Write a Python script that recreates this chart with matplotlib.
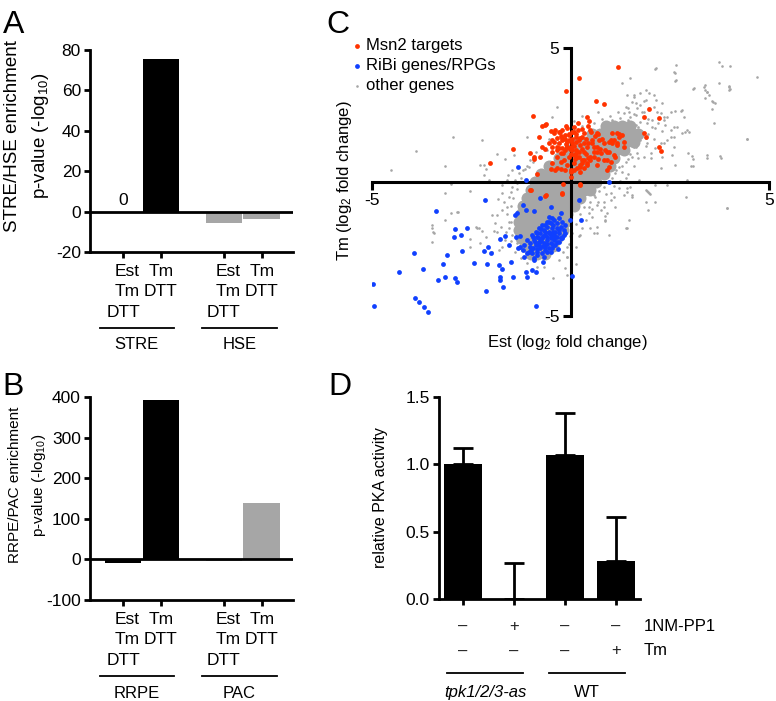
import numpy as np
import matplotlib.pyplot as plt

plt.rcParams['font.family'] = ['Liberation Sans', 'DejaVu Sans']
plt.rcParams['mathtext.fontset'] = 'custom'
plt.rcParams['mathtext.rm'] = 'Liberation Sans'
plt.rcParams['mathtext.it'] = 'Liberation Sans:italic'
plt.rcParams['axes.unicode_minus'] = False

# ---- panels A and B: motif enrichment ----
cond_labels = ['Est\nTm\nDTT', 'Tm\nDTT', 'Est\nTm\nDTT', 'Tm\nDTT']
stre_hse = [0, 75.5, -5.5, -3.5]
rrpe_pac = [-8, 392, -5, 138]
groups_a = ['STRE', 'HSE']
groups_b = ['RRPE', 'PAC']
bar_cols = ['black', 'black', '#a6a6a6', '#a6a6a6']

# ---- panel C: log2 fold changes (Est, Tm) ----
msn2_pts = [
    (1.19, 4.28), (0.21, 3.87), (-0.11, 3.41), (0.64, 3.02), (0.84, 2.91), (-0.94, 2.48),
    (1.97, 2.71), (1.85, 2.41), (2.23, 2.39), (0.42, 2.41), (0.46, 2.29), (-0.71, 2.09),
    (-0.61, 2.16), (-0.80, 1.67), (-1.44, 1.24), (-2.03, 0.72), (-0.92, 0.95), (-0.71, 1.32),
    (-0.46, 1.57), (-0.29, 1.44), (-0.42, 1.82), (-0.21, 1.94), (-0.08, 2.00), (0.04, 1.88),
    (0.13, 1.69), (0.00, 1.32), (-0.13, 1.19), (-0.25, 1.07), (-0.34, 0.95), (-0.46, 1.13),
    (0.17, 0.95), (0.34, 0.82), (0.08, 0.70), (0.25, 0.57), (0.42, 0.70), (0.50, 0.95),
    (0.59, 1.13), (0.76, 1.07), (0.92, 1.13), (1.05, 1.44), (1.18, 1.38), (1.34, 1.32),
    (1.18, 1.82), (1.01, 1.57), (0.84, 1.44), (0.67, 1.82), (0.55, 1.57), (0.34, 1.44),
    (0.21, 1.13), (0.00, 0.45), (-0.18, -0.09), (0.25, -0.07), (-0.21, -0.46), (-0.61, -0.49),
    (-0.84, 0.30), (-0.99, -0.30), (1.85, 1.82), (1.89, 1.69), (2.23, 1.32), (2.27, 1.17),
    (-0.17, 0.82), (-0.04, 0.95), (-0.34, 0.51), (-0.46, 0.70), (0.45, 2.09), (0.52, 1.88),
    (0.29, 1.69), (0.00, 1.57), (-0.08, 1.32), (0.13, 1.19), (0.34, 1.13), (0.84, 0.82),
    (0.67, 0.63), (-0.21, 1.63), (-0.34, 1.32), (0.08, 1.01), (0.24, 1.38), (-0.04, 1.75),
    (-0.27, 1.88), (0.71, 1.57), (1.22, 1.69), (1.34, 1.50), (0.92, 0.82), (1.13, 0.95),
    (0.44, 1.44), (-0.63, 2.13), (-0.38, 1.94), (-0.29, 1.88), (-0.13, 1.75), (-0.04, 1.79),
    (0.08, 1.88), (0.18, 1.94), (0.29, 1.97), (0.35, 1.82), (0.25, 1.63), (0.15, 1.50),
    (0.04, 1.44), (-0.08, 1.50), (-0.21, 1.57), (-0.34, 1.63), (-0.42, 1.50), (-0.46, 1.32),
    (-0.34, 1.19), (-0.21, 1.26), (-0.08, 1.32), (0.04, 1.19), (0.13, 1.07), (0.21, 0.95),
    (0.29, 0.82), (0.25, 0.63), (0.17, 0.51), (0.08, 0.45), (0.00, 0.39), (-0.13, 0.45),
    (-0.25, 0.47), (-0.38, 0.45), (-0.50, 0.47), (0.25, 0.39), (0.34, 0.51), (0.42, 0.63),
    (0.50, 0.82), (0.59, 0.95), (0.67, 1.13), (0.88, 1.19), (0.97, 1.13), (1.09, 1.01),
    (1.01, 0.76), (0.97, 0.57), (0.92, 0.45), (1.18, 1.44), (1.09, 1.57), (1.30, 1.75),
    (1.22, 1.79), (1.05, 1.82), (0.69, 1.79), (0.50, 1.94), (0.55, 1.44), (0.42, 1.32),
    (0.67, 1.32), (0.97, 1.50), (-0.63, 1.22), (-0.76, 0.95), (-0.92, 0.85), (-1.02, 1.07),
    (0.00, 0.20), (0.24, -0.11), (-0.21, -0.42), (-0.63, -0.52), (-1.01, -0.30),
    (-0.25, 1.72), (-0.15, 1.62), (-0.05, 1.55), (0.05, 1.62), (0.15, 1.78), (0.22, 1.55),
    (0.10, 1.35), (-0.02, 1.25), (-0.12, 1.40), (-0.28, 1.28), (-0.18, 1.10), (0.02, 1.05),
    (0.12, 0.85), (0.30, 1.25), (0.38, 1.05), (0.45, 0.90), (0.60, 1.30), (0.75, 1.25),
    (0.80, 1.60), (0.62, 1.70), (0.38, 1.60), (-0.50, 1.90), (-0.55, 1.45), (0.08, 2.05),
    (-0.12, 2.10), (0.20, 2.20), (0.30, 0.70), (-0.08, 0.62), (-0.25, 0.75), (0.70, 0.85),
]

ribi_pts = [
    (-3.40, -1.08), (-2.16, -0.67), (-2.91, -1.74), (-2.60, -1.70), (-2.94, -2.04), (-2.75, -1.99),
    (-2.73, -2.57), (-3.95, -2.66), (-3.12, -2.72), (-3.72, -3.25), (-4.33, -3.37), (-3.22, -3.06),
    (-3.15, -3.53), (-3.34, -3.66), (-2.90, -3.59), (-2.85, -3.72), (-4.98, -3.81), (-4.94, -4.64),
    (-3.92, -4.32), (-3.82, -4.47), (-3.69, -4.68), (-3.59, -4.85), (-2.42, -3.01), (-2.18, -2.56),
    (-2.08, -2.44), (-1.99, -2.66), (-2.10, -3.07), (-2.14, -4.05), (-1.79, -3.10), (-1.72, -3.26),
    (-1.78, -3.56), (-1.78, -3.66), (-1.70, -3.92), (-1.44, -3.53), (-1.51, -2.97), (-1.55, -2.35),
    (-1.78, -2.14), (-1.64, -2.01), (-1.37, -2.06), (-1.28, -2.01), (-1.33, -2.48), (-1.18, -2.79),
    (-1.13, -3.37), (-1.09, -3.56), (-0.97, -3.28), (-0.92, -2.91), (-0.86, -3.37), (-0.86, -4.61),
    (-0.69, -2.97), (-1.40, -1.23), (-1.34, -1.17), (-1.19, -0.86), (-1.13, -1.04), (-0.92, -1.07),
    (-0.50, -0.92), (-0.55, -1.29), (-0.25, -1.17), (-0.76, -0.61), (-1.13, 0.07), (-1.32, 0.57),
    (0.04, -3.51), (-0.32, -2.51), (-0.21, -2.10), (-0.17, -1.98), (-0.02, -1.42), (0.97, 0.00),
    (0.21, -0.67), (0.27, -1.42),
    (-1.01, -2.29), (-0.92, -2.16), (-0.84, -2.04), (-0.76, -1.92), (-0.67, -1.79), (-0.59, -1.67),
    (-0.50, -1.54), (-0.42, -1.42), (-0.34, -1.54), (-0.25, -1.67), (-0.17, -1.79), (-0.21, -2.04),
    (-0.29, -2.23), (-0.38, -2.35), (-0.46, -2.48), (-0.59, -2.60), (-0.71, -2.66), (-0.84, -2.60),
    (-0.94, -2.48), (-1.02, -2.44), (-0.88, -2.35), (-0.80, -2.23), (-0.71, -2.10), (-0.63, -1.98),
    (-0.55, -1.85), (-0.46, -1.73), (-0.38, -1.85), (-0.34, -2.04), (-0.42, -2.16), (-0.50, -2.29),
    (-0.63, -2.41), (-0.76, -2.48), (-0.84, -2.72), (-0.67, -2.79), (-0.97, -2.66), (-1.05, -2.60),
    (-0.59, -2.16), (-0.67, -2.29), (-0.50, -1.98), (-0.42, -1.98), (-0.29, -1.79), (-0.13, -1.60),
    (-0.21, -1.48), (-0.29, -1.36), (-0.46, -1.36), (-0.59, -1.48), (-0.71, -1.60), (-0.80, -1.73),
    (-0.88, -1.85), (-0.97, -1.98), (-1.09, -2.16), (-1.18, -2.35), (-1.26, -2.44), (-1.19, -2.54),
    (-1.09, -2.66), (-0.92, -2.85),
    (-0.95, -2.05), (-0.85, -1.90), (-0.75, -1.75), (-0.65, -1.60), (-0.55, -1.50), (-0.45, -1.60),
    (-0.35, -1.70), (-0.30, -1.90), (-0.25, -2.10), (-0.35, -2.25), (-0.45, -2.35), (-0.55, -2.45),
    (-0.70, -2.40), (-0.80, -2.35), (-0.90, -2.25), (-0.60, -2.05), (-0.70, -2.00), (-0.80, -2.10),
    (-0.50, -2.10), (-0.40, -2.05), (-0.55, -1.90), (-0.65, -1.85), (-0.45, -1.85), (-0.75, -2.20),
    (-0.60, -2.30), (-0.85, -2.50), (-0.65, -2.55), (-0.50, -2.60), (-1.00, -2.55), (-0.15, -1.90),
]

# sparse grey genes away from the dense centre
other_pts = [
    (2.67, 4.37), (3.74, 4.49), (3.82, 4.33), (4.03, 4.33), (4.70, 3.91), (2.14, 4.20), (2.62, 4.08),
    (2.63, 3.78), (1.30, 3.71), (1.49, 3.87), (3.38, 3.62), (3.40, 3.43), (3.44, 3.37), (3.48, 3.25),
    (3.74, 3.68), (3.99, 3.58), (4.01, 3.46), (3.09, 3.46), (3.59, 3.00), (3.65, 2.94), (3.38, 3.12),
    (3.57, 2.72), (3.61, 2.19), (4.45, 1.59), (3.44, 0.91), (3.80, 0.91), (3.09, 0.85), (3.04, 0.60),
    (2.94, 1.94), (2.98, 1.88), (2.81, 1.82), (2.69, 2.04), (2.87, 2.41), (2.79, 2.64), (2.64, 2.65),
    (2.52, 2.60), (2.43, 2.44), (2.35, 2.31), (2.10, 3.25), (2.31, 2.94), (1.85, 3.03), (1.97, 3.33),
    (1.76, 3.31), (1.60, 3.25), (1.55, 3.00), (1.64, 2.94), (1.76, 2.87), (1.39, 2.81), (1.47, 2.62),
    (1.34, 2.56), (1.51, 2.44), (1.64, 2.50), (1.85, 2.62), (1.97, 2.75), (2.10, 2.81), (2.18, 2.62),
    (2.06, 2.31), (1.93, 2.19), (1.76, 2.25), (1.64, 2.13), (1.43, 2.06), (2.39, 2.13), (2.52, 1.94),
    (2.60, 1.69), (2.43, 1.57), (2.27, 1.44), (2.14, 1.26), (2.02, 1.07), (1.85, 0.95), (2.02, 0.88),
    (2.60, 1.32), (2.56, 1.01), (2.31, 0.95), (2.64, 0.63), (2.27, 0.51), (2.94, 0.07), (2.44, -0.11),
    (2.14, -0.11), (1.51, -0.17), (1.43, -0.36), (1.55, -0.49), (1.09, -0.55), (1.95, -0.36),
    (2.00, -0.45), (1.22, -0.24), (1.72, 0.07), (1.39, 0.14), (3.95, -0.98), (1.34, 1.57),
    (1.22, 1.44), (1.09, 1.38), (1.18, 1.19), (1.01, 1.07), (1.43, 1.26), (1.60, 1.32), (1.68, 1.07),
    (1.55, 0.95), (1.39, 0.76), (1.22, 0.57), (1.30, 0.39), (1.13, 0.32), (1.09, 2.19), (0.92, 2.00),
    (1.18, 1.88), (1.01, 1.75), (0.84, 1.63), (1.55, 1.88), (1.72, 1.75), (1.89, 1.63), (1.93, 1.44),
    (1.01, -0.42), (1.34, -0.49), (1.93, -0.32), (1.97, -0.42), (2.14, -0.73), (1.95, -1.04),
    (1.47, -1.42), (1.39, -1.73), (1.13, -0.92), (0.88, -1.27), (0.88, -1.42), (0.97, -1.98),
    (0.67, -1.92), (0.50, -1.73), (0.55, -1.29), (0.76, -1.04), (0.67, -0.86), (0.84, -0.73),
    (1.01, -0.67), (0.59, -0.49), (0.25, -1.98), (0.21, -2.01), (0.13, -2.41), (0.15, -3.06),
    (-0.08, -3.47), (-0.10, -2.81),
    (-4.52, 0.45), (-3.17, 0.60), (-2.27, 0.63), (-2.14, 0.47), (-2.18, 0.26), (-2.06, 0.07),
    (-2.54, -0.32), (-3.01, -0.09), (-3.17, -0.42), (-2.84, -1.11), (-3.02, -1.17), (-3.17, -1.42),
    (-3.50, -1.60), (-3.46, -1.85), (-3.48, -2.23), (-2.39, -1.67), (-2.31, -1.73), (-2.54, -2.11),
    (-2.27, -2.26), (-2.14, -2.06), (-1.93, -1.82), (-1.85, -1.85), (-1.76, -1.67), (-1.91, -1.54),
    (-1.85, -1.23), (-1.97, -1.23), (-1.72, -1.04), (-1.60, -0.92), (-1.83, -0.65), (-1.68, -0.73),
    (-1.55, -0.55), (-1.51, -0.36), (-1.47, -0.17), (-1.34, -0.05), (-1.40, 0.07), (-1.60, 0.07),
    (-1.72, -0.11), (-1.72, -0.42), (-2.52, -2.41), (-1.81, -2.54), (-1.72, -2.41), (-1.97, -2.60),
    (-1.64, -2.16), (-1.47, -1.98), (-1.55, -1.73), (-1.51, -1.48), (-1.39, -1.54), (-1.34, -1.36),
    (-1.22, -1.36), (-1.26, -1.79), (-1.18, -2.01), (-1.34, -2.29), (-1.22, -2.54), (-1.09, -3.03),
    (-0.84, -3.16), (-0.67, -3.16), (-0.44, -3.59), (-0.13, -3.22), (-0.08, -2.79), (-0.08, -2.41),
    (-3.90, 1.17), (-2.96, 1.69), (-2.24, 1.57), (-1.43, 1.01), (-1.85, 1.04), (-1.66, 0.85),
    (-2.18, 0.63), (-1.47, 0.45), (-1.30, 0.32), (-1.58, 0.26), (-1.09, 1.69), (-1.09, 0.60),
    (-1.01, 0.82), (-0.88, 1.13), (-0.55, 1.59), (-0.46, 2.44), (-0.34, 2.81), (0.10, 2.29),
    (0.47, 1.57), (1.89, 3.43), (2.15, 4.24), (2.60, 4.12), (2.66, 3.81), (3.36, 3.56), (3.44, 3.37),
    (3.99, 3.53), (3.99, 3.43), (3.11, 3.50), (3.57, 3.03), (4.45, 1.62), (3.44, 1.01), (3.76, 0.98),
    (3.06, 0.98), (3.09, 0.61), (2.96, 1.09), (2.88, 1.88), (2.81, 2.69), (2.28, 2.59), (2.35, 2.41),
    (2.16, 3.06), (1.90, 3.06), (1.60, 3.18), (1.43, 3.25), (1.68, 2.75), (2.14, 2.00), (2.60, 2.06),
    (2.52, 1.69), (2.35, 1.44), (2.90, -0.57), (1.91, -0.30), (1.91, -0.73), (1.43, -0.24),
    (1.43, -1.73), (0.88, -1.44), (0.92, -1.17), (0.84, -0.92), (0.60, -1.92), (0.67, -1.67),
    (3.93, -0.98), (1.55, -0.55), (0.42, -0.42), (0.46, -0.92), (0.46, -1.17), (0.00, -2.75),
    (-2.87, -1.11), (-3.50, -1.70), (-3.44, -1.92), (-2.35, -1.73), (-2.23, -1.83),
    # halo around the dense centre
    (-1.25, 0.15), (-1.35, -0.25), (-1.45, -0.60), (-1.20, 0.45), (-1.05, 0.55), (-1.50, -0.90),
    (-1.60, -1.20), (-1.55, -1.50), (-1.62, -1.85), (-1.50, -2.20), (-1.40, -2.60), (-1.25, -2.85),
    (-0.30, -2.90), (-0.20, -2.60), (-0.05, -2.30), (0.05, -1.90), (0.15, -1.55), (0.25, -1.20),
    (0.35, -0.95), (0.50, -0.75), (0.62, -0.55), (0.72, -0.35), (0.85, -0.20), (0.95, 0.00),
    (1.05, 0.15), (1.15, 0.45), (1.30, 0.60), (1.45, 0.85), (1.50, 1.05), (1.65, 1.30),
    (1.75, 1.55), (1.95, 1.80), (2.05, 2.05), (1.95, 2.35), (1.80, 2.60), (1.20, 2.60),
    (1.00, 2.45), (0.80, 2.35), (0.60, 2.20), (0.30, 2.10), (0.10, 1.95), (-0.15, 1.70),
    (-0.35, 1.45), (-0.60, 1.20), (-0.75, 0.95), (-0.95, 0.75), (-1.15, 0.50), (0.30, 2.45),
    (0.70, 2.60), (1.45, 2.75), (1.60, 2.55), (2.20, 2.20), (2.30, 1.90), (2.10, 1.60),
    (1.90, 1.35), (1.70, 0.90), (1.60, 0.60), (1.45, 0.30), (1.25, 0.05), (1.10, -0.15),
    (0.90, -0.45), (0.70, -0.75), (0.55, -1.00), (0.40, -1.40), (0.30, -1.70), (-0.02, -2.00),
    (1.05, 2.30), (1.25, 2.40), (1.45, 2.30), (1.70, 2.05), (0.85, 2.15), (1.35, 2.15),
]

# dense grey centre, read row by row (Tm value, Est values)
core_rows = [
    (2.1, [0.9, 1.1, 1.3, 1.5]),
    (1.8, [0.55, 0.75, 0.95, 1.15, 1.35, 1.55, 1.7]),
    (1.5, [0.2, 0.4, 0.6, 0.8, 1.0, 1.2, 1.4, 1.6]),
    (1.2, [-0.05, 0.15, 0.35, 0.55, 0.75, 0.95, 1.15, 1.35]),
    (0.9, [-0.3, -0.1, 0.1, 0.3, 0.5, 0.7, 0.9, 1.1]),
    (0.6, [-0.55, -0.35, -0.15, 0.05, 0.25, 0.45, 0.65, 0.85, 1.0]),
    (0.3, [-0.75, -0.55, -0.35, -0.15, 0.05, 0.25, 0.45, 0.65, 0.85]),
    (0.0, [-0.9, -0.7, -0.5, -0.3, -0.1, 0.1, 0.3, 0.5, 0.65]),
    (-0.3, [-1.0, -0.85, -0.65, -0.45, -0.25, -0.05, 0.15, 0.35, 0.5]),
    (-0.6, [-1.1, -0.95, -0.75, -0.55, -0.35, -0.15, 0.05, 0.25]),
    (-0.9, [-1.2, -1.05, -0.85, -0.65, -0.45, -0.25, -0.05, 0.1]),
    (-1.2, [-1.25, -1.1, -0.9, -0.7, -0.5, -0.3, -0.1]),
    (-1.5, [-1.3, -1.15, -0.95, -0.75, -0.55, -0.35, -0.15]),
    (-1.8, [-1.3, -1.15, -1.0, -0.8, -0.6, -0.4, -0.2]),
    (-2.1, [-1.25, -1.1, -0.95, -0.75, -0.55, -0.35]),
    (-2.4, [-1.15, -1.0, -0.85, -0.65, -0.45]),
    (-2.7, [-1.0, -0.85, -0.65]),
]

# ---- panel D: PKA activity ----
pka_mean = [1.00, 0.00, 1.07, 0.28]
pka_err = [0.12, 0.27, 0.31, 0.33]
nmpp1 = ['–', '+', '–', '–']
tm_row = ['–', '–', '–', '+']
strains = ['tpk1/2/3-as', 'WT']

W, H = 776, 701
fig = plt.figure(figsize=(W / 100, H / 100), dpi=100)


def box(l, t, r, b):
    return [l / W, 1 - b / H, (r - l) / W, (b - t) / H]


def enrich(ax, vals, ylim, yticks, groups, ylabel, ycen, lsize):
    pos = [0, 1, 2.66, 3.66]
    ax.bar(pos, vals, width=0.97, color=bar_cols, zorder=2)
    ax.axhline(0, color='k', lw=2, zorder=3)
    ax.set_xlim(-0.87, 4.48)
    ax.set_ylim(*ylim)
    ax.set_yticks(yticks)
    ax.set_xticks(pos)
    ax.set_xticklabels(cond_labels, fontsize=12.5, linespacing=1.45)
    ax.get_xticklabels()[0].set_multialignment('right')
    ax.get_xticklabels()[2].set_multialignment('right')
    for s in ['top', 'right']:
        ax.spines[s].set_visible(False)
    for s in ['left', 'bottom']:
        ax.spines[s].set_linewidth(2)
    ax.tick_params(width=2, length=4.5, labelsize=12.5, pad=2)
    ax.tick_params(axis='x', pad=4)
    tr = ax.get_xaxis_transform()
    for (x0, x1), g in zip([(-0.61, 1.34), (2.08, 4.06)], groups):
        ax.plot([x0, x1], [-0.375, -0.375], color='k', lw=1.3, transform=tr, clip_on=False)
        ax.text((x0 + x1) / 2, -0.46, g, transform=tr, ha='center', va='center', fontsize=12)
    fig.text(28 / W, 1 - ycen / H, ylabel, rotation=90, ha='center', va='center',
             fontsize=lsize, linespacing=1.6, multialignment='center')


axA = fig.add_axes(box(90, 50, 293, 252))
enrich(axA, stre_hse, (-20, 80), [-20, 0, 20, 40, 60, 80], groups_a,
       'STRE/HSE enrichment\np-value (-log$_{10}$)', 136, 13.5)
axA.text(0, 2, '0', ha='center', va='bottom', fontsize=12.5)

axB = fig.add_axes(box(90, 397, 293, 600))
enrich(axB, rrpe_pac, (-100, 400), [-100, 0, 100, 200, 300, 400], groups_b,
       'RRPE/PAC enrichment\np-value (-log$_{10}$)', 485, 11)

# ---- C ----
axC = fig.add_axes(box(372, 48, 769, 316))
core_x = [x for y, xs in core_rows for x in xs]
core_y = [y for y, xs in core_rows for x in xs]
ox, oy = np.array(other_pts).T
bx, by = np.array(ribi_pts).T
rx, ry = np.array(msn2_pts).T
grey = '#a6a6a6'
axC.scatter(core_x, core_y, s=75, color=grey, lw=0, zorder=1)
axC.scatter(ox, oy, s=3.5, color=grey, lw=0, zorder=1, label='other genes')
axC.scatter(bx, by, s=12, color='#1040ff', lw=0, zorder=3, label='RiBi genes/RPGs')
axC.scatter(rx, ry, s=12, color='#ff3300', lw=0, zorder=4, label='Msn2 targets')
axC.set_xlim(-5, 5)
axC.set_ylim(-5, 5)
for s in ['top', 'right']:
    axC.spines[s].set_visible(False)
for s in ['left', 'bottom']:
    axC.spines[s].set_position('zero')
    axC.spines[s].set_linewidth(2.2)
    axC.spines[s].set_zorder(2)
axC.set_xticks([-5, 5])
axC.set_xticklabels(['-5', '5'])
axC.set_yticks([-5, 5])
axC.set_yticklabels(['-5', '5'])
axC.tick_params(width=2.2, length=6, labelsize=12.5, pad=2)
h, l = axC.get_legend_handles_labels()
axC.legend(h[::-1], l[::-1], loc='upper left', bbox_to_anchor=(353 / W, 1 - 38 / H),
           bbox_transform=fig.transFigure, frameon=False, fontsize=12,
           handlelength=0.5, handletextpad=0.25, labelspacing=0.3, borderpad=0,
           borderaxespad=0, scatterpoints=1)
fig.text(344 / W, 1 - 181 / H, 'Tm (log$_2$ fold change)', rotation=90,
         ha='center', va='center', fontsize=12)
fig.text(567 / W, 1 - 342 / H, 'Est (log$_2$ fold change)', ha='center', va='center', fontsize=12)

# ---- D ----
axD = fig.add_axes(box(439, 397, 640, 599))
pos = np.arange(4)
axD.bar(pos, pka_mean, width=0.76, color='k', zorder=2)
axD.errorbar(pos, pka_mean, yerr=[np.zeros(4), pka_err], fmt='none', ecolor='k',
             elinewidth=2, capsize=7, capthick=2, zorder=1)
axD.set_xlim(-0.47, 3.47)
axD.set_ylim(0, 1.5)
axD.set_yticks([0, 0.5, 1.0, 1.5])
axD.set_yticklabels(['0.0', '0.5', '1.0', '1.5'])
axD.set_xticks(pos)
axD.set_xticklabels([])
for s in ['top', 'right']:
    axD.spines[s].set_visible(False)
for s in ['left', 'bottom']:
    axD.spines[s].set_linewidth(2)
axD.tick_params(width=2, length=4.5, labelsize=12.5, pad=2)
trD = axD.get_xaxis_transform()
for p, a, b in zip(pos, nmpp1, tm_row):
    axD.text(p, -0.134, a, transform=trD, ha='center', va='center', fontsize=12, color='#222222')
    axD.text(p, -0.257, b, transform=trD, ha='center', va='center', fontsize=12, color='#222222')
axD.text(3.54, -0.134, '1NM-PP1', transform=trD, ha='left', va='center', fontsize=12)
axD.text(3.54, -0.257, 'Tm', transform=trD, ha='left', va='center', fontsize=12)
for (x0, x1), sname, it in zip([(-0.31, 1.18), (1.69, 3.18)], strains, ['italic', 'normal']):
    axD.plot([x0, x1], [-0.366, -0.366], color='k', lw=1.3, transform=trD, clip_on=False)
    axD.text((x0 + x1) / 2, -0.462, sname, transform=trD, ha='center', va='center',
             fontsize=12, style=it)
fig.text(380 / W, 1 - 498 / H, 'relative PKA activity', rotation=90, ha='center',
         va='center', fontsize=11.5)

# panel letters
for letter, x, y in [('A', 3, 33), ('B', 2, 395), ('C', 326, 33), ('D', 328, 395)]:
    fig.text(x / W, 1 - y / H, letter, fontsize=23, va='baseline', ha='left')

fig.savefig('out.png', dpi=100)
